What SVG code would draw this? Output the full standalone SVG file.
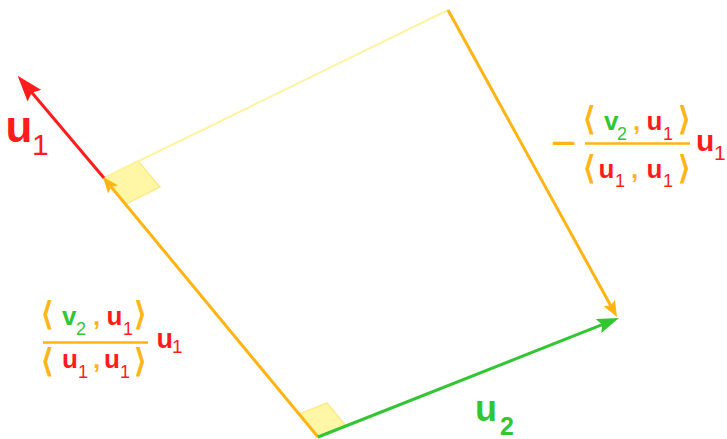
<svg xmlns="http://www.w3.org/2000/svg" width="727" height="439" viewBox="0 0 727 439">
<style>
text{font-family:"Liberation Sans",Arial,sans-serif}
.b{font-weight:bold}
.red{fill:#FF1C1C}
.grn{fill:#33C633}
.org{fill:#FFB414}
.br{font-family:"DejaVu Sans","Liberation Sans",sans-serif;fill:#FFB414;stroke:#FFB414;stroke-width:0.9;font-size:32px}
.sq{fill:#FFF7A6;stroke:#FFEA8C;stroke-width:1.5}
.ln{fill:none;stroke-width:3;stroke-linecap:butt}
</style>
<defs>
<marker id="ahRed" markerUnits="userSpaceOnUse" viewBox="0 0 26 18" markerWidth="26" markerHeight="18" refX="7" refY="9" orient="auto">
<path d="M0,0 L26,9 L0,18 L4,9 z" fill="#FF1C1C"/>
</marker>
<marker id="ahOrg" markerUnits="userSpaceOnUse" viewBox="0 0 16 13" markerWidth="16" markerHeight="13" refX="4" refY="6.5" orient="auto">
<path d="M0,0 L16,6.5 L0,13 L3,6.5 z" fill="#FFB414"/>
</marker>
<marker id="ahGrn" markerUnits="userSpaceOnUse" viewBox="0 0 22 15" markerWidth="22" markerHeight="15" refX="6" refY="7.5" orient="auto">
<path d="M0,0 L22,7.5 L0,15 L4,7.5 z" fill="#33C633"/>
</marker>
</defs>
<g id="right-angles">
<polygon class="sq" points="104,178 138,161 160,187 126,204"/>
<polygon class="sq" points="318,437 299,414 327,403 346,426"/>
</g>
<g id="connectors">
<line x1="104" y1="178" x2="448" y2="10" stroke="#FFF3A0" stroke-width="2"/>
<line class="ln" x1="318" y1="437" x2="110.6" y2="186.3" stroke="#FFB414" marker-end="url(#ahOrg)"/>
<line class="ln" x1="448" y1="10" x2="611.2" y2="306.5" stroke="#FFB414" marker-end="url(#ahOrg)"/>
<line class="ln" x1="318" y1="437" x2="604.1" y2="323.9" stroke="#33C633" marker-end="url(#ahGrn)"/>
<line class="ln" x1="104" y1="178" x2="29.9" y2="90.3" stroke="#FF1C1C" marker-end="url(#ahRed)"/>
</g>
<g id="label-u1">
<text class="b red" x="5.5" y="142" font-size="44">u</text>
<text class="red" x="32" y="155" font-size="30">1</text>
</g>
<g id="label-u2">
<text class="b grn" x="475" y="421" font-size="36">u</text>
<text class="b grn" x="500" y="435" font-size="25">2</text>
</g>
<g id="label-proj-right">
<text class="org" x="551" y="158" font-size="44">−</text>
<text class="br" x="583" y="130">⟨</text>
<text class="b grn" x="604" y="130" font-size="26">v</text>
<text class="grn" x="617" y="140" font-size="18">2</text>
<text class="b org" x="633" y="130" font-size="26">,</text>
<text class="b red" x="646.5" y="130" font-size="26">u</text>
<text class="red" x="663" y="140" font-size="18">1</text>
<text class="br" x="678" y="130">⟩</text>
<line x1="585" y1="143.5" x2="690" y2="143.5" stroke="#FFB414" stroke-width="2.5"/>
<text class="br" x="583" y="179">⟨</text>
<text class="b red" x="598.5" y="178" font-size="26">u</text>
<text class="red" x="615" y="187" font-size="18">1</text>
<text class="b org" x="631" y="178" font-size="26">,</text>
<text class="b red" x="646.5" y="178" font-size="26">u</text>
<text class="red" x="663" y="187" font-size="18">1</text>
<text class="br" x="678" y="179">⟩</text>
<text class="b red" x="696" y="151" font-size="30">u</text>
<text class="red" x="714" y="160" font-size="21">1</text>
</g>
<g id="label-proj-left">
<text class="br" x="41" y="325">⟨</text>
<text class="b grn" x="62" y="325" font-size="26">v</text>
<text class="grn" x="76" y="335" font-size="18">2</text>
<text class="b org" x="93" y="325" font-size="26">,</text>
<text class="b red" x="106.5" y="325" font-size="26">u</text>
<text class="red" x="123" y="335" font-size="18">1</text>
<text class="br" x="134" y="325">⟩</text>
<line x1="43" y1="342.5" x2="148" y2="342.5" stroke="#FFB414" stroke-width="2.5"/>
<text class="br" x="41" y="372">⟨</text>
<text class="b red" x="62" y="368" font-size="26">u</text>
<text class="red" x="78" y="378" font-size="18">1</text>
<text class="b org" x="93" y="368" font-size="26">,</text>
<text class="b red" x="104" y="368" font-size="26">u</text>
<text class="red" x="120" y="378" font-size="18">1</text>
<text class="br" x="134" y="372">⟩</text>
<text class="b red" x="156.5" y="348" font-size="27">u</text>
<text class="red" x="172" y="353" font-size="19">1</text>
</g>
</svg>
